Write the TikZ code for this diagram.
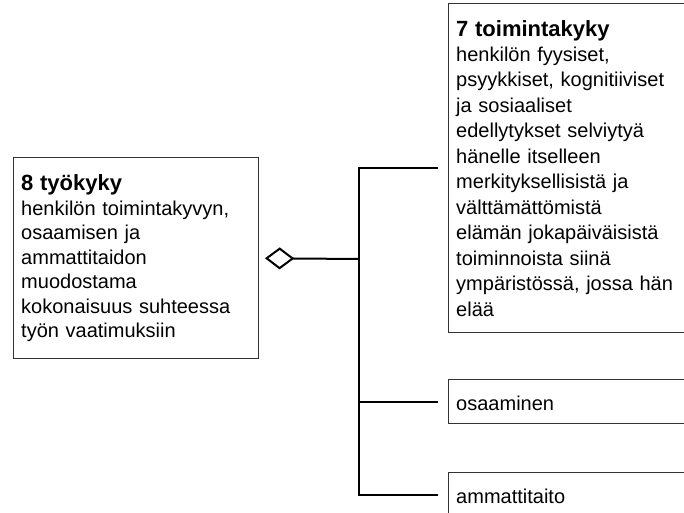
\documentclass[tikz,border=0pt]{standalone}
\usepackage{fontspec}
\setmainfont{Liberation Sans}
\usetikzlibrary{arrows.meta}
\newcommand{\otsikko}[1]{{\fontsize{16.5pt}{18.4pt}\selectfont\bfseries #1}}
\begin{document}
\begin{tikzpicture}
      [
      x=0.75pt,y=-0.75pt,
      box/.style={rectangle,draw=black!80,line width=1.1pt,anchor=north west,align=left,inner xsep=6pt,inner ysep=0pt,minimum width=195pt,text width=183pt,font=\fontsize{15pt}{18.4pt}\selectfont},
      item/.style={box,minimum height=33pt,text height=13.5pt,text depth=0pt},
      link/.style={line width=1.5pt,black}
      ]
      \useasboundingbox (0,0) rectangle (684,513);
      \clip (0,0) rectangle (684,513);
      \node (tyokyky) at (12.5,157) [box,minimum width=183.75pt,text width=171.75pt,minimum height=150.75pt]
        {\otsikko{8 työkyky}\\henkilön toimintakyvyn,\\osaamisen ja\\ammattitaidon\\muodostama\\kokonaisuus suhteessa\\työn vaatimuksiin};
      \node (toimintakyky) at (447.5,3) [box,minimum height=246.75pt,font=\fontsize{15pt}{19.1pt}\selectfont]
        {\otsikko{7 toimintakyky}\\henkilön fyysiset,\\psyykkiset, kognitiiviset\\ja sosiaaliset\\edellytykset selviytyä\\hänelle itselleen\\merkityksellisistä ja\\välttämättömistä\\elämän jokapäiväisistä\\toiminnoista siinä\\ympäristössä, jossa hän\\elää};
      \node (osaaminen) at (447.5,379) [item] {osaaminen};
      \node (ammattitaito) at (447.5,472) [item] {ammattitaito};
      \coordinate (runko) at (359,259);
      \draw [link, shorten <=7pt] (toimintakyky.west) -| (runko);
      \draw [link, shorten <=7pt] (osaaminen.west) -| (runko);
      \draw [link, shorten <=7pt] (ammattitaito.west) -| (runko);
      \draw [link, -{Diamond[open,length=22pt,width=16.5pt]}, shorten >=4.5pt] (runko) -- (tyokyky.east);
    \end{tikzpicture}
\end{document}
